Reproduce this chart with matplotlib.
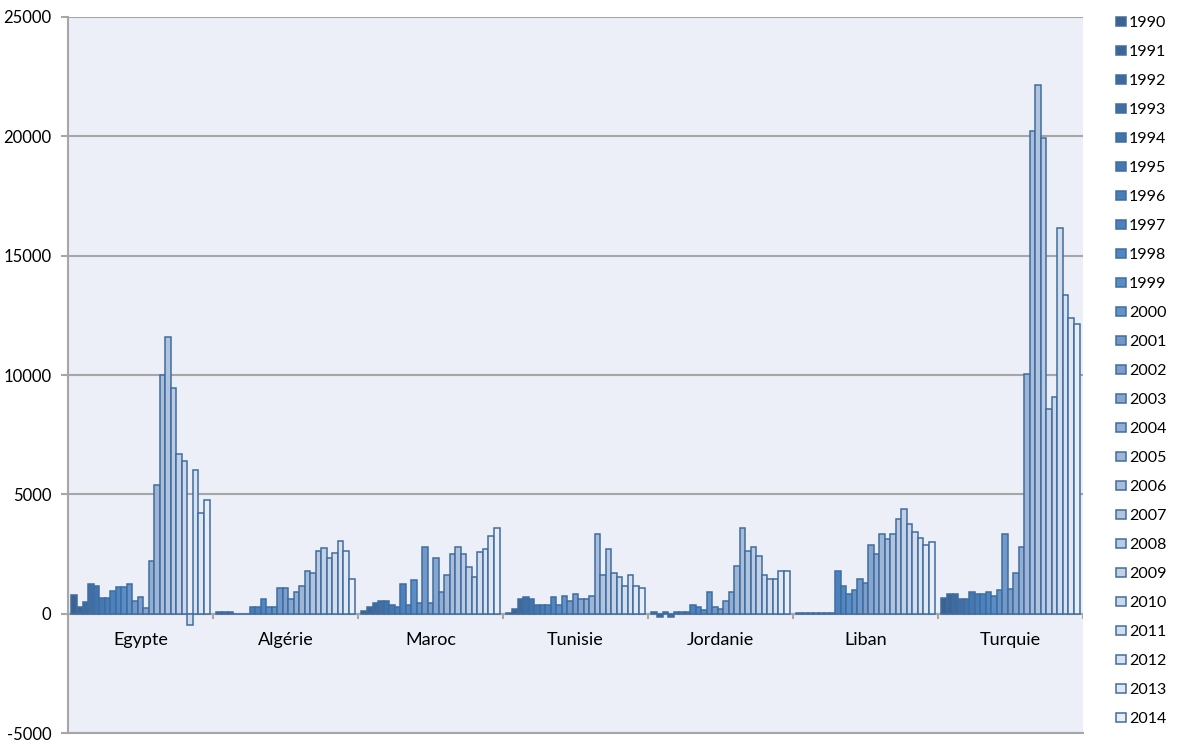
import matplotlib
matplotlib.use("Agg")
import matplotlib.pyplot as plt
import numpy as np
from matplotlib.colors import LinearSegmentedColormap
from matplotlib.patches import Patch

plt.rcParams['font.family'] = ['Lato', 'DejaVu Sans']

countries = ["Egypte", "Algérie", "Maroc", "Tunisie", "Jordanie", "Liban", "Turquie"]
years = list(range(1990, 2015))

egypte = [780, 300, 470, 1250, 1180, 640, 640, 940, 1100, 1100, 1250, 530, 690, 240,
          2190, 5400, 10000, 11600, 9450, 6710, 6400, -490, 6020, 4230, 4760]
algerie = [50, 50, 50, 0, 0, 0, 290, 290, 600, 290, 290, 1075, 1075, 600,
           920, 1160, 1790, 1700, 2640, 2740, 2330, 2560, 3050, 2640, 1470]
maroc = [125, 290, 460, 545, 545, 380, 290, 1230, 380, 1400, 460, 2800, 460, 2330,
         920, 1620, 2490, 2800, 2490, 1940, 1550, 2570, 2720, 3270, 3590]
tunisie = [40, 210, 600, 685, 600, 380, 380, 380, 685, 380, 755, 530, 840, 600,
           600, 755, 3350, 1620, 2720, 1700, 1550, 1160, 1620, 1160, 1075]
jordanie = [50, -120, 50, -120, 50, 50, 50, 380, 290, 140, 920, 290, 210, 530,
            920, 2010, 3590, 2640, 2810, 2420, 1620, 1470, 1470, 1790, 1790]
liban = [40, 40, 40, 40, 40, 40, 40, 1780, 1150, 840, 990, 1460, 1300, 2880,
         2490, 3350, 3110, 3350, 3980, 4370, 3740, 3430, 3190, 2880, 3020]
turquie = [670, 840, 840, 600, 600, 910, 810, 840, 920, 740, 980, 3330, 1050, 1700,
           2800, 10030, 20240, 22130, 19910, 8590, 9090, 16150, 13340, 12400, 12130]

yticks = [-5000, 0, 5000, 10000, 15000, 20000, 25000]

series = [egypte, algerie, maroc, tunisie, jordanie, liban, turquie]
values = np.array(series).T  # years x countries

W, H = 1202, 747
fig = plt.figure(figsize=(W / 100, H / 100), dpi=100)
ax = fig.add_axes([68 / W, 1 - 733 / H, (1083 - 68) / W, (733 - 17) / H])
ax.set_facecolor('#ECEFF8')

cmap = LinearSegmentedColormap.from_list(
    'xl', ['#3B6290', '#4273AC', '#4E87C4', '#7C9DCB', '#A9BCDA', '#CCD7EA', '#E8EDF6'])
edge = '#3F6D9F'

n = len(years)
span = 0.952
bw = span / n
x = np.arange(len(countries))
handles = []
for k, yr in enumerate(years):
    col = cmap(k / (n - 1))
    off = -span / 2 + (k + 0.5) * bw
    ax.bar(x + off, values[k], width=bw, color=col, edgecolor=edge, linewidth=1.1, zorder=3)
    handles.append(Patch(facecolor=col, edgecolor=edge, linewidth=1.1, label=str(yr)))

ax.set_xlim(-0.5, len(countries) - 0.5)
ax.set_ylim(yticks[0], yticks[-1])
ax.set_yticks(yticks)
ax.set_yticklabels([str(v) for v in yticks], fontsize=12)
ax.tick_params(axis='y', length=5, width=1.5, color='#A6A6A6', pad=7)
ax.set_xticks([])
ax.yaxis.grid(True, color='#A6A6A6', linewidth=1.5, zorder=1)
for s in ['top', 'right']:
    ax.spines[s].set_visible(False)
for s in ['left', 'bottom']:
    ax.spines[s].set_color('#A6A6A6')
    ax.spines[s].set_linewidth(1.5)

units_per_px = (yticks[-1] - yticks[0]) / (733 - 17)
ax.axhline(0, color='#A6A6A6', linewidth=1.5, zorder=2)
ax.vlines(np.arange(len(countries) + 1) - 0.5, -5 * units_per_px, 0,
          color='#A6A6A6', linewidth=1.5, zorder=2)
for i, c in enumerate(countries):
    ax.text(i, -26 * units_per_px, c, ha='center', va='center', fontsize=13)

fig.legend(handles=handles, loc='upper left', bbox_to_anchor=(1116 / W, 1 - 16 / H),
           frameon=False, fontsize=11.5, handlelength=0.6, handleheight=0.5,
           handletextpad=0.2, labelspacing=0.94, borderaxespad=0, borderpad=0)

fig.savefig('out.png', dpi=100, facecolor='white')
